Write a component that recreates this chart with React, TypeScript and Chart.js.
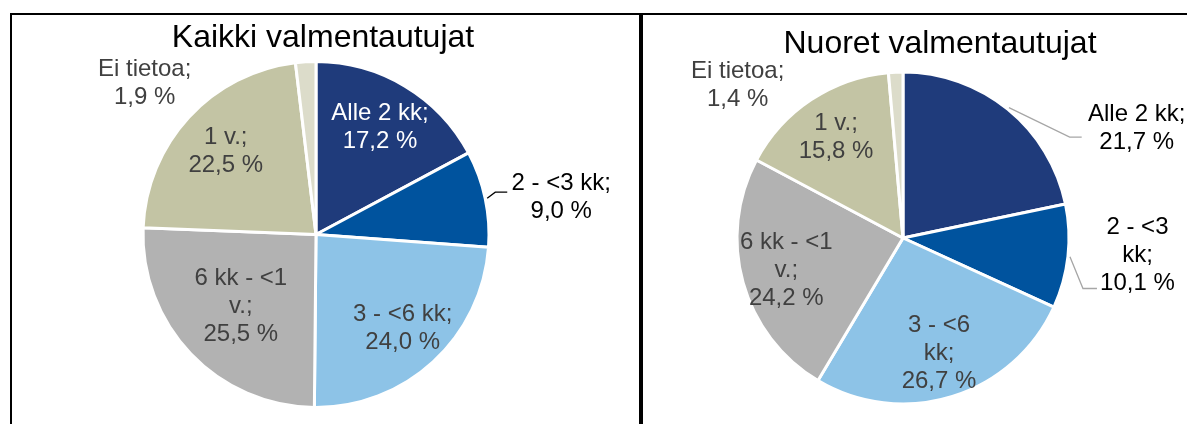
import React, { useEffect, useRef } from "react";
import { Chart, registerables } from "chart.js";

Chart.register(...registerables);

// ---------- data ----------
const categories = ["Alle 2 kk", "2 - <3 kk", "3 - <6 kk", "6 kk - <1 v.", "1 v.", "Ei tietoa"];
const kaikkiValues = [17.2, 9.0, 24.0, 25.5, 22.5, 1.9];
const nuoretValues = [21.7, 10.1, 26.7, 24.2, 15.8, 1.4];
const kaikkiTitle = "Kaikki valmentautujat";
const nuoretTitle = "Nuoret valmentautujat";

// ---------- styles ----------
const sliceColors = ["#1F3B7B", "#00539E", "#8DC3E7", "#B2B2B2", "#C3C4A4", "#DCDCCA"];
const FONT = '"Liberation Sans", Arial, Helvetica, sans-serif';
const LABEL_SIZE = 24;
const LINE_H = 28;

type Place = {
  radial?: number;
  offset?: [number, number];
  leader?: [number, number, number, number];
  leaderColor?: string;
  color: string;
  wrap: number;
};

const kaikkiPlaces: Place[] = [
  { radial: 0.72, color: "#FFFFFF", wrap: 110 },
  { offset: [76, -1], leader: [10, -6.5, 22, -6.5], leaderColor: "#000000", color: "#000000", wrap: 110 },
  { radial: 0.74, color: "#404040", wrap: 110 },
  { radial: 0.6, color: "#404040", wrap: 110 },
  { radial: 0.71, color: "#404040", wrap: 110 },
  { offset: [-161, 22], color: "#404040", wrap: 130 },
];

const nuoretPlaces: Place[] = [
  { offset: [129, 19.5], leader: [62, 28, 74, 28], leaderColor: "#A6A6A6", color: "#000000", wrap: 110 },
  { offset: [69.5, -1], leader: [15, 32, 29, 32], leaderColor: "#A6A6A6", color: "#000000", wrap: 80 },
  { radial: 0.73, color: "#404040", wrap: 80 },
  { radial: 0.73, color: "#404040", wrap: 110 },
  { radial: 0.73, color: "#404040", wrap: 110 },
  { offset: [-158, 13], color: "#404040", wrap: 130 },
];

const fmt = (v: number) => v.toFixed(1).replace(".", ",") + " %";

function wrapText(ctx: CanvasRenderingContext2D, text: string, maxW: number): string[] {
  const words = text.split(" ");
  const lines: string[] = [];
  let cur = "";
  for (const w of words) {
    const test = cur ? cur + " " + w : w;
    if (cur && ctx.measureText(test).width > maxW) {
      lines.push(cur);
      cur = w;
    } else {
      cur = test;
    }
  }
  if (cur) lines.push(cur);
  return lines;
}

function makeLabelPlugin(places: Place[], values: number[], title: string, titlePos: [number, number]) {
  return {
    id: "pieLabels",
    afterDatasetsDraw(chart: any) {
      const ctx: CanvasRenderingContext2D = chart.ctx;
      const meta = chart.getDatasetMeta(0);
      ctx.save();
      // title
      ctx.font = `32px ${FONT}`;
      ctx.fillStyle = "#000000";
      ctx.textAlign = "center";
      ctx.textBaseline = "alphabetic";
      ctx.fillText(title, titlePos[0], titlePos[1]);

      ctx.font = `${LABEL_SIZE}px ${FONT}`;
      meta.data.forEach((arc: any, i: number) => {
        const p = places[i];
        const { x, y, startAngle, endAngle, outerRadius } = arc.getProps(
          ["x", "y", "startAngle", "endAngle", "outerRadius"],
          true
        );
        const mid = (startAngle + endAngle) / 2;
        const cos = Math.cos(mid);
        const sin = Math.sin(mid);
        let cx: number, cy: number;
        if (p.offset) {
          const ex = x + outerRadius * cos;
          const ey = y + outerRadius * sin;
          cx = ex + p.offset[0];
          cy = ey + p.offset[1];
          if (p.leader) {
            ctx.beginPath();
            ctx.strokeStyle = p.leaderColor || "#000";
            ctx.lineWidth = 1.3;
            ctx.moveTo(ex + cos * 2, ey + sin * 2);
            ctx.lineTo(ex + p.leader[0], ey + p.leader[1]);
            ctx.lineTo(ex + p.leader[2], ey + p.leader[3]);
            ctx.stroke();
          }
        } else {
          const d = outerRadius * (p.radial || 0.7);
          cx = x + d * cos;
          cy = y + d * sin;
        }
        const lines = wrapText(ctx, categories[i] + ";", p.wrap);
        lines.push(fmt(values[i]));
        ctx.fillStyle = p.color;
        ctx.textAlign = "center";
        ctx.textBaseline = "middle";
        const n = lines.length;
        lines.forEach((ln, k) => {
          ctx.fillText(ln, cx, cy + (k - (n - 1) / 2) * LINE_H);
        });
      });
      ctx.restore();
    },
  };
}

type PieProps = {
  values: number[];
  places: Place[];
  title: string;
  titlePos: [number, number];
  radius: number;
  padding: { left: number; right: number; top: number; bottom: number };
  width: number;
  height: number;
  left: number;
  top: number;
};

function PieChart(props: PieProps) {
  const ref = useRef<HTMLCanvasElement | null>(null);
  useEffect(() => {
    if (!ref.current) return;
    const chart = new Chart(ref.current, {
      type: "pie",
      data: {
        labels: categories,
        datasets: [
          {
            data: props.values,
            backgroundColor: sliceColors,
            borderColor: "#FFFFFF",
            borderWidth: 3,
          },
        ],
      },
      options: {
        responsive: false,
        animation: false,
        devicePixelRatio: 1,
        radius: props.radius,
        layout: { padding: props.padding },
        plugins: {
          legend: { display: false },
          tooltip: { enabled: false },
          title: { display: false },
        },
      } as any,
      plugins: [makeLabelPlugin(props.places, props.values, props.title, props.titlePos)],
    });
    return () => chart.destroy();
  }, []);
  return (
    <canvas
      ref={ref}
      width={props.width}
      height={props.height}
      style={{ position: "absolute", left: props.left, top: props.top, width: props.width, height: props.height }}
    />
  );
}

export default function App() {
  return (
    <div style={{ position: "absolute", left: 0, top: 0, width: 1187, height: 424, overflow: "hidden", background: "#FFFFFF" }}>
      <div
        style={{
          position: "absolute",
          left: 10,
          top: 13,
          width: 631,
          height: 500,
          boxSizing: "border-box",
          border: "2px solid #000000",
        }}
      />
      <div
        style={{
          position: "absolute",
          left: 641,
          top: 13,
          width: 600,
          height: 500,
          boxSizing: "border-box",
          borderLeft: "2px solid #000000",
          borderTop: "2px solid #000000",
        }}
      />
      <PieChart
        values={kaikkiValues}
        places={kaikkiPlaces}
        title={kaikkiTitle}
        titlePos={[311, 32]}
        radius={173}
        padding={{ left: 131, right: 149, top: 46.5, bottom: 16.5 }}
        width={626}
        height={409}
        left={12}
        top={15}
      />
      <PieChart
        values={nuoretValues}
        places={nuoretPlaces}
        title={nuoretTitle}
        titlePos={[297, 38]}
        radius={166}
        padding={{ left: 94, right: 118, top: 57, bottom: 20 }}
        width={544}
        height={409}
        left={643}
        top={15}
      />
    </div>
  );
}
